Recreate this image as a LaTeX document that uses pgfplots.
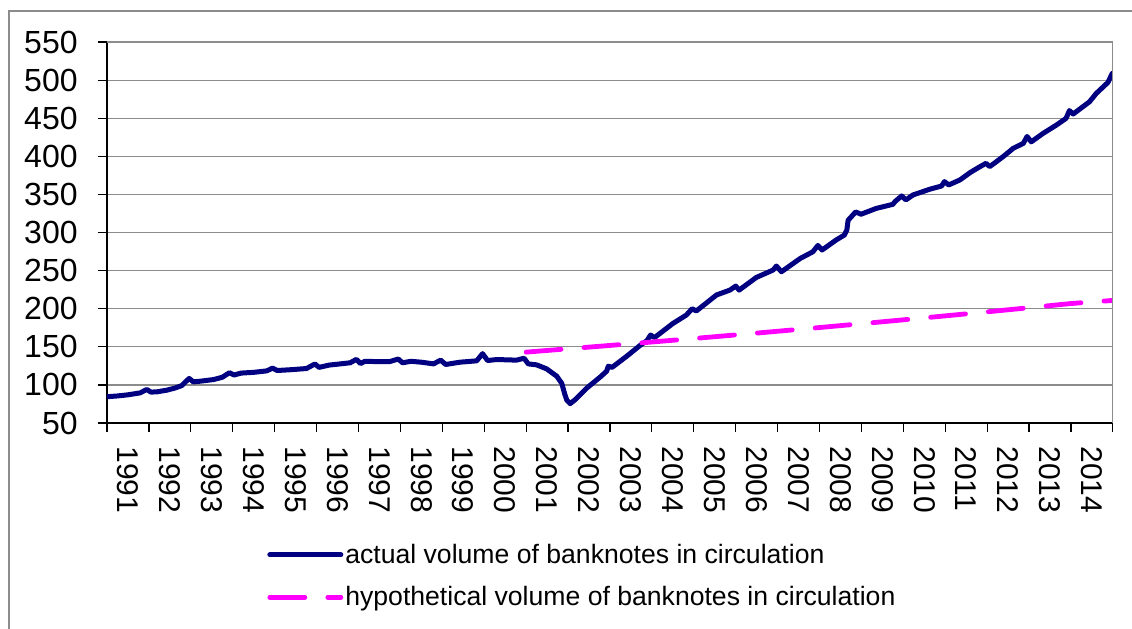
\documentclass[border=0pt]{standalone}
\usepackage{pgfplots}
\pgfplotsset{compat=1.18}
\usepackage{fontspec}
\setmainfont{Liberation Sans}
\definecolor{navyline}{RGB}{0,0,128}
\definecolor{pinkline}{RGB}{255,0,255}
\definecolor{gridgray}{RGB}{140,140,140}
\begin{document}
\begin{tikzpicture}
\useasboundingbox (-53.5pt,-102.5pt) rectangle (512.5pt,211.5pt);
\draw[gridgray, line width=0.6pt] (-49pt,-104pt) -- (-49pt,206pt) -- (514pt,206pt);
\begin{axis}[
  at={(0pt,0pt)}, anchor=south west,
  scale only axis, width=503pt, height=190.5pt,
  xmin=1991, xmax=2015, ymin=50, ymax=550,
  axis x line*=bottom, axis y line*=left,
  axis line style={black, line width=0.6pt, -},
  ytick={50,100,...,550},
  /pgf/number format/assume math mode=true,
  ymajorgrids, grid style={gridgray, line width=0.6pt},
  xtick={1991.5,1992.5,...,2014.5},
  xticklabels={1991,1992,1993,1994,1995,1996,1997,1998,1999,2000,2001,2002,2003,2004,2005,2006,2007,2008,2009,2010,2011,2012,2013,2014},
  minor xtick={1991,1992,...,2015},
  tick align=outside,
  major tick length=4.5pt, minor tick length=4.5pt,
  tick style={black, line width=0.6pt},
  major x tick style={draw=none},
  xticklabel style={yshift=-7pt, rotate=-90, anchor=west, inner sep=0pt, font=\fontsize{15}{18}\selectfont},
  yticklabel style={anchor=east, inner sep=0pt, xshift=-10pt, font=\fontsize{16}{19}\selectfont},
  legend style={draw=none, fill=none, at={(0.159,-0.4016)}, anchor=west, inner sep=0pt,
    font=\fontsize{13.3}{15}\selectfont, row sep=10pt, column sep=1pt,
    nodes={inner sep=0pt, anchor=west}},
  legend cell align=left,
  legend image code/.code={\draw[#1] (0pt,0pt) -- (35.5pt,0pt);},
]
\addplot[navyline, line width=2.5pt, line join=round, line cap=round] coordinates {
(1991.0,84.5)(1991.25,85.5)(1991.5,87)(1991.79,89.5)(1991.95,94)
(1992.05,90.5)(1992.2,91)(1992.42,93)(1992.6,95.5)(1992.78,99)(1992.96,108.5)
(1993.06,104)(1993.25,105)(1993.54,107)(1993.75,110)(1993.92,116)
(1994.03,113)(1994.2,115.5)(1994.5,116.5)(1994.81,118.4)(1994.95,122)
(1995.06,118.9)(1995.4,120)(1995.76,121.5)(1995.96,127.5)
(1996.06,123)(1996.3,126)(1996.8,129)(1996.95,133.5)
(1997.05,128)(1997.15,131)(1997.5,130.5)(1997.75,130.7)(1997.95,134)
(1998.05,129)(1998.25,131)(1998.5,129.8)(1998.79,127.6)(1998.96,132.5)
(1999.08,126.8)(1999.42,129.8)(1999.82,131.6)(1999.96,141)
(2000.08,132)(2000.3,133.3)(2000.77,132.5)(2000.95,135)
(2001.05,127.6)(2001.25,126.3)(2001.49,121)(2001.73,111.4)(2001.85,102)(2001.92,88)(2001.97,80)
(2002.05,75.4)(2002.17,80.7)(2002.45,96)(2002.77,110.5)(2002.92,118)(2002.96,124.6)
(2003.05,123)(2003.4,137.7)(2003.71,151.5)(2003.88,158)(2003.97,165.5)
(2004.06,162)(2004.5,180.6)(2004.82,191.6)(2004.96,200)
(2005.06,197)(2005.54,218)(2005.86,224.4)(2006.0,229.7)
(2006.08,224.4)(2006.49,241)(2006.89,250.7)(2006.97,256)
(2007.09,248.5)(2007.54,266)(2007.84,274.7)(2007.96,283)
(2008.06,277)(2008.39,290)(2008.59,296.6)(2008.65,303)(2008.68,316)(2008.86,327)
(2008.99,324)(2009.35,331.6)(2009.75,337)(2009.8,340.6)(2009.96,348)
(2010.06,342.8)(2010.23,349.3)(2010.63,356.8)(2010.91,361)(2010.98,366.8)
(2011.08,362.4)(2011.35,369)(2011.59,378.6)(2011.83,386.5)(2011.97,390.8)
(2012.06,386.5)(2012.38,399.6)(2012.62,410.5)(2012.86,417)(2012.95,426)
(2013.05,419)(2013.33,430)(2013.65,441)(2013.88,449.8)(2013.96,460)
(2014.05,455.5)(2014.44,471.6)(2014.6,482.5)(2014.88,497)(2014.98,508.7)
};
\addlegendentry{actual volume of banknotes in circulation}
\addplot[pinkline, line width=2.4pt, line cap=round, dash pattern=on 17.5pt off 11.5pt] coordinates {
(2001,143)(2002,147.4)(2003,151.8)(2004,156.3)(2005,160.9)(2006,165.6)(2007,170.4)
(2008,175.3)(2009,180.3)(2010,185.4)(2011,190.6)(2012,195.9)(2013,201.3)(2014,206.8)(2014.98,210.8)
};
\addlegendentry{hypothetical volume of banknotes in circulation}
\draw[gridgray, line width=0.8pt] (rel axis cs:0,1) -- (rel axis cs:1,1) -- (rel axis cs:1,0);
\end{axis}
\end{tikzpicture}
\end{document}
